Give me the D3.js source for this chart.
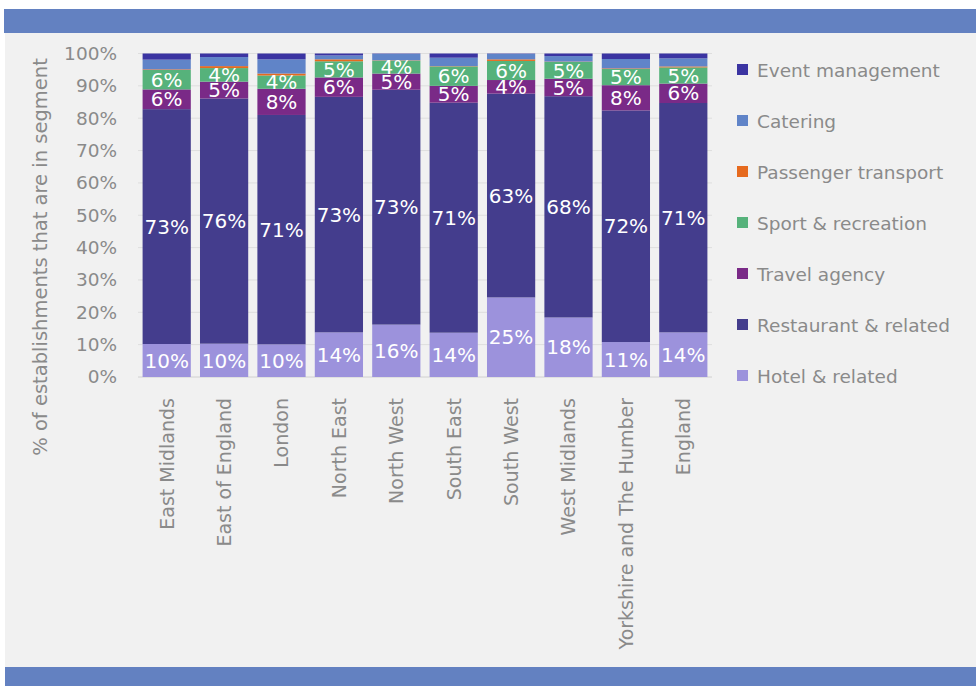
<!DOCTYPE html>
<html>
<head>
<meta charset="utf-8">
<script src="https://cdn.jsdelivr.net/npm/d3@7"></script>
<style>
  html, body { margin: 0; padding: 0; background: #ffffff; }
  svg { display: block; font-family: "DejaVu Sans", sans-serif; }
</style>
</head>
<body>
<svg id="chart" width="976" height="686"></svg>
<script>
// regions along the x axis
var regions = ["East Midlands", "East of England", "London", "North East", "North West",
               "South East", "South West", "West Midlands", "Yorkshire and The Humber", "England"];

// segments, bottom to top
var segments = ["Hotel & related", "Restaurant & related", "Travel agency", "Sport & recreation",
                "Passenger transport", "Catering", "Event management"];

// percentage values per segment, one per region
var hotel      = [10.2, 10.3, 10.1, 13.8, 16.2, 13.7, 24.6, 18.4, 10.8, 13.8];
var restaurant = [72.6, 75.8, 70.9, 72.8, 72.6, 71.1, 63.0, 68.4, 71.6, 70.9];
var travel     = [6.1, 5.2, 8.1, 6.0, 5.0, 5.2, 4.2, 5.4, 7.8, 6.0];
var sport      = [6.0, 4.2, 4.1, 5.0, 4.0, 6.0, 5.9, 5.2, 5.0, 5.0];
var passenger  = [0.2, 0.6, 0.6, 0.6, 0.1, 0.1, 0.5, 0.1, 0.2, 0.3];
var catering   = [3.0, 2.8, 4.4, 1.2, 2.0, 2.6, 1.7, 1.7, 2.9, 2.5];
var eventMgmt  = [1.9, 1.1, 1.8, 0.6, 0.1, 1.3, 0.1, 0.8, 1.7, 1.5];

var yTicks = [0, 10, 20, 30, 40, 50, 60, 70, 80, 90, 100];

// only these segments carry value labels
var labelled = ["Hotel & related", "Restaurant & related", "Travel agency", "Sport & recreation"];

var colors = {
  "Hotel & related": "#9c92dc",
  "Restaurant & related": "#443d8d",
  "Travel agency": "#7a2a87",
  "Sport & recreation": "#56b27b",
  "Passenger transport": "#e66a1e",
  "Catering": "#6084c8",
  "Event management": "#3b34a2"
};

var series = [hotel, restaurant, travel, sport, passenger, catering, eventMgmt];
var rows = regions.map(function(r, i) {
  var o = { region: r };
  segments.forEach(function(s, j) { o[s] = series[j][i]; });
  return o;
});

var svg = d3.select("#chart");

// frame: grey panel and two blue bands
svg.append("rect").attr("x", 5).attr("y", 9).attr("width", 971).attr("height", 677).attr("fill", "#f1f1f1");
svg.append("rect").attr("x", 4).attr("y", 9).attr("width", 972).attr("height", 24).attr("fill", "#6381c1");
svg.append("rect").attr("x", 5).attr("y", 667).attr("width", 971).attr("height", 19).attr("fill", "#6381c1");

var x = d3.scaleBand().domain(regions).range([138, 712]).paddingInner(0.16).paddingOuter(0.08);
var y = d3.scaleLinear().domain([0, 100]).range([377, 53.5]);

// gridlines
svg.append("g").selectAll("line").data(yTicks).join("line")
  .attr("x1", 138).attr("x2", 712)
  .attr("y1", function(d) { return y(d); }).attr("y2", function(d) { return y(d); })
  .attr("stroke", function(d) { return d === 0 ? "#d0d0d0" : "#dedede"; })
  .attr("stroke-width", 1);

// y axis labels
var yAxis = svg.append("g").attr("transform", "translate(117,0)")
  .call(d3.axisLeft(y).tickValues(yTicks).tickFormat(function(d) { return d + "%"; }).tickSize(0).tickPadding(0));
yAxis.select(".domain").remove();
yAxis.selectAll("text").attr("font-size", 18.5).attr("fill", "#8a8a8a").attr("font-family", "DejaVu Sans");

// y title
svg.append("text")
  .attr("transform", "translate(47,257) rotate(-90)")
  .attr("text-anchor", "middle")
  .attr("font-size", 19.5).attr("fill", "#8a8a8a")
  .text("% of establishments that are in segment");

// stacked bars
var stacked = d3.stack().keys(segments)(rows);

var layer = svg.append("g").selectAll("g").data(stacked).join("g")
  .attr("fill", function(d) { return colors[d.key]; });

layer.selectAll("rect").data(function(d) { return d; }).join("rect")
  .attr("x", function(d) { return x(d.data.region); })
  .attr("width", x.bandwidth())
  .attr("y", function(d) { return y(d[1]); })
  .attr("height", function(d) { return y(d[0]) - y(d[1]); });

// value labels
var lab = svg.append("g").selectAll("g").data(stacked.filter(function(s) { return labelled.indexOf(s.key) >= 0; })).join("g");
lab.selectAll("text").data(function(d) { return d.map(function(p) { return { p: p, key: d.key }; }); }).join("text")
  .attr("x", function(d) { return x(d.p.data.region) + x.bandwidth() / 2; })
  .attr("y", function(d) { return (y(d.p[0]) + y(d.p[1])) / 2; })
  .attr("dy", "0.36em")
  .attr("text-anchor", "middle")
  .attr("font-size", 20).attr("fill", "#ffffff")
  .text(function(d) { return Math.round(d.p.data[d.key]) + "%"; });

// x axis labels
var xAxis = svg.append("g").attr("transform", "translate(0,377)")
  .call(d3.axisBottom(x).tickSize(0).tickPadding(0));
xAxis.select(".domain").remove();
xAxis.selectAll("text")
  .attr("transform", "translate(0,21) rotate(-90)")
  .attr("text-anchor", "end")
  .attr("x", 0).attr("y", 0).attr("dy", "0.36em")
  .attr("font-size", 19).attr("fill", "#8a8a8a").attr("font-family", "DejaVu Sans");

// legend, top to bottom
var legendOrder = segments.slice().reverse();
var leg = svg.append("g").selectAll("g").data(legendOrder).join("g")
  .attr("transform", function(d, i) { return "translate(737," + (70 + i * 51) + ")"; });
leg.append("rect").attr("x", 0).attr("y", -6).attr("width", 11).attr("height", 11)
  .attr("fill", function(d) { return colors[d]; });
leg.append("text").attr("x", 20).attr("y", 0).attr("dy", "0.36em")
  .attr("font-size", 18.5).attr("fill", "#8a8a8a")
  .text(function(d) { return d; });
</script>
</body>
</html>
